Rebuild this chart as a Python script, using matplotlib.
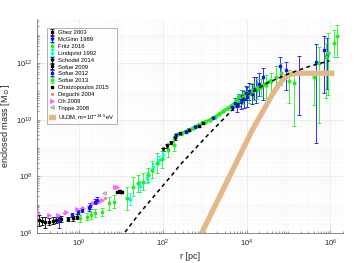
import numpy as np
import matplotlib.pyplot as plt
from matplotlib.patches import Patch
from matplotlib.ticker import LogLocator, NullFormatter

plt.rcParams['font.family'] = ['Liberation Sans', 'DejaVu Sans']
plt.rcParams['mathtext.fontset'] = 'dejavusans'

# all values as log10(r [pc]) and log10(M [Msun])
ghez_logr = [-0.96, -0.88, -0.80, -0.72, -0.62, -0.55, -0.48, -0.42]
ghez_logm = [6.45, 6.42, 6.38, 6.40, 6.44, 6.46, 6.48, 6.50]
ghez_err = [0.20, 0.15, 0.20, 0.12, 0.12, 0.10, 0.10, 0.10]

mcginn_logr = [2.32, 2.55, 2.78, 3.20]
mcginn_logm = [9.45, 9.58, 9.73, 10.05]
mcginn_err = [0.04, 0.04, 0.04, 0.04]

fritz_logr = [0.03, 0.19, 0.30, 0.39, 0.55, 0.71, 0.83]
fritz_logm = [6.52, 6.58, 6.62, 6.70, 6.75, 7.05, 7.11]
fritz_err = [0.12, 0.12, 0.12, 0.15, 0.15, 0.22, 0.22]

lindqvist_logr = [1.22, 1.45, 1.62, 1.78, 1.90, 2.00]
lindqvist_logm = [7.20, 7.65, 7.95, 8.32, 8.58, 8.75]
lindqvist_err = [0.20, 0.20, 0.20, 0.15, 0.15, 0.15]

schodel_logr = [2.00, 2.10, 2.20, 2.30]
schodel_logm = [8.95, 9.07, 9.19, 9.35]
schodel_err = [0.06, 0.06, 0.06, 0.06]

sofue09_logr = [-0.25, -0.15, -0.05, 2.42, 2.62, 2.86, 2.95]
sofue09_logm = [6.49, 6.52, 6.58, 9.52, 9.64, 9.78, 9.90]
sofue09_err = [0.08, 0.08, 0.08, 0.05, 0.05, 0.05, 0.05]

sofue12_logr = [-0.48, -0.17, -0.01, 0.07, 0.23, 0.27, 0.39, 0.43,
                3.65, 3.72, 3.78, 3.82, 3.86, 3.90, 3.94, 3.98, 4.02, 4.06, 4.12, 4.18, 4.22, 4.30,
                4.39, 4.79, 4.95, 5.26, 5.66, 5.86, 5.93]
sofue12_logm = [6.46, 6.64, 6.75, 6.81, 6.87, 6.95, 7.11, 7.17,
                10.45, 10.60, 10.48, 10.70, 10.62, 10.85, 10.72, 10.95, 10.80, 11.00, 10.90, 11.10, 11.05, 11.25,
                11.52, 11.88, 11.76, 11.64, 12.05, 12.47, 12.30]
sofue12_lo = [0.28, 0.08, 0.08, 0.08, 0.10, 0.10, 0.10, 0.10,
              0.12, 0.15, 0.20, 0.20, 0.25, 0.20, 0.30, 0.25, 0.35, 0.30, 0.35, 0.40, 0.45, 0.40,
              0.82, 0.53, 0.71, 1.47, 2.88, 1.53, 1.20]
sofue12_hi = [0.10, 0.08, 0.08, 0.08, 0.10, 0.10, 0.10, 0.10,
              0.12, 0.15, 0.20, 0.20, 0.25, 0.20, 0.30, 0.25, 0.35, 0.30, 0.35, 0.40, 0.45, 0.40,
              0.30, 0.35, 0.26, 0.61, 0.63, 0.47, 0.60]

sofue13_logr = [1.14, 1.30, 1.42, 1.54, 1.66, 1.74, 1.86, 1.98, 2.13, 2.27,
                3.80, 3.92, 4.05, 4.15, 4.25, 4.35,
                4.47, 4.59, 4.71, 4.83, 5.02, 5.14, 5.62, 5.74, 5.90, 5.95, 6.08, 6.17]
sofue13_logm = [7.23, 7.64, 7.76, 7.81, 8.05, 8.23, 8.48, 8.60, 8.93, 9.11,
                10.65, 10.80, 10.90, 11.00, 11.08, 11.15,
                11.23, 11.35, 11.52, 11.64, 11.35, 11.29, 11.52, 12.00, 12.23, 12.35, 12.70, 12.96]
sofue13_lo = [0.40, 0.35, 0.30, 0.30, 0.25, 0.30, 0.35, 0.30, 0.25, 0.20,
              0.20, 0.25, 0.30, 0.30, 0.35, 0.30,
              0.47, 0.47, 0.35, 0.41, 0.77, 1.53, 1.00, 2.12, 1.47, 1.47, 0.47, 0.73]
sofue13_hi = [0.40, 0.35, 0.30, 0.30, 0.25, 0.30, 0.35, 0.30, 0.25, 0.20,
              0.20, 0.25, 0.30, 0.30, 0.35, 0.30,
              0.35, 0.29, 0.36, 0.36, 0.41, 0.41, 0.18, 0.58, 0.47, 0.70, 0.47, 0.39]

# dense rotation-curve part of Sofue 2013
band13_logr = [2.29, 2.45, 2.60, 2.72, 2.85, 3.00, 3.12, 3.25, 3.35, 3.44, 3.55,
               3.67, 3.75, 3.83, 3.92, 3.99, 4.10, 4.20, 4.31, 4.45, 4.55]
band13_logm = [9.40, 9.52, 9.62, 9.70, 9.80, 9.92, 9.99, 10.10, 10.20, 10.29, 10.40,
               10.52, 10.65, 10.82, 10.88, 10.94, 11.02, 11.10, 11.17, 11.25, 11.35]

chatz_logr = [0.92, 0.95, 0.97, 0.99, 1.01, 1.03]
chatz_logm = [7.45, 7.47, 7.44, 7.48, 7.46, 7.45]

deguchi_logr = [-0.35, 0.62]
deguchi_logm = [6.72, 7.22]

oh_logr = [-0.98, -0.72, -0.50, -0.30, -0.05, 0.10, 0.34, 0.48, 0.55, 0.86, 0.92]
oh_logm = [6.70, 6.64, 6.65, 6.75, 6.84, 6.88, 7.05, 7.12, 7.17, 7.61, 7.64]

trippe_logr = [0.59]
trippe_logm = [7.40]

fit_logr = [1.10, 1.45, 1.85, 2.25, 2.40, 3.04, 3.50, 4.00, 4.50, 5.00, 5.50, 5.98]
fit_logm = [6.03, 6.70, 7.40, 8.10, 8.38, 9.40, 10.10, 10.85, 11.30, 11.62, 11.88, 12.08]

uldm_logr = [2.76, 2.93, 4.14, 4.59, 4.75, 4.90, 5.00, 5.14, 6.10]
uldm_logm = [5.50, 6.00, 9.64, 10.82, 11.20, 11.47, 11.57, 11.64, 11.64]

fig = plt.figure(figsize=(3.57, 2.63), dpi=100)
ax = fig.add_axes([0.1036, 0.114, 0.857, 0.814])


def eb(lr, lm, lo, hi, color, fmt, ms, label):
    lr = np.array(lr)
    lm = np.array(lm)
    m = 10 ** lm
    yerr = [m - 10 ** (lm - np.array(lo)), 10 ** (lm + np.array(hi)) - m]
    return ax.errorbar(10 ** lr, m, yerr=yerr, fmt=fmt, color=color, ms=ms,
                       elinewidth=0.6, capsize=1.2, capthick=0.6, label=label, zorder=3)


handles = []
handles.append(eb(ghez_logr, ghez_logm, ghez_err, ghez_err, 'k', 's', 1.5, 'Ghez 2003'))
handles.append(eb(mcginn_logr, mcginn_logm, mcginn_err, mcginn_err, 'b', 'v', 2, 'McGinn 1989'))
handles.append(eb(fritz_logr, fritz_logm, fritz_err, fritz_err, '#22ee22', 's', 1.5, 'Fritz 2016'))
handles.append(eb(lindqvist_logr, lindqvist_logm, lindqvist_err, lindqvist_err, '#00ffff', 's', 1.5,
                  'Lindqvist 1992'))
handles.append(eb(schodel_logr, schodel_logm, schodel_err, schodel_err, 'k', 'v', 2, 'Schodel 2014'))
handles.append(eb(sofue09_logr, sofue09_logm, sofue09_err, sofue09_err, 'k', 's', 1.5, 'Sofue 2009'))
handles.append(eb(sofue12_logr, sofue12_logm, sofue12_lo, sofue12_hi, '#1010ff', 's', 1.5, 'Sofue 2012'))
handles.append(eb(sofue13_logr, sofue13_logm, sofue13_lo, sofue13_hi, '#22ee22', 'o', 2, 'Sofue 2013'))
ax.plot(10 ** np.array(band13_logr), 10 ** np.array(band13_logm), '-o', color='#22ee22',
        lw=2.2, ms=2.2, zorder=3)
handles += ax.plot(10 ** np.array(chatz_logr), 10 ** np.array(chatz_logm), 's', color='k', ms=1.6,
                   label='Chatzopoulos 2015', zorder=3)
handles += ax.plot(10 ** np.array(deguchi_logr), 10 ** np.array(deguchi_logm), '.', color='#ff7777',
                   ms=2.5, label='Deguchi 2004', zorder=3)
handles += ax.plot(10 ** np.array(oh_logr), 10 ** np.array(oh_logm), '>', color='#ff66ff', ms=2.5,
                   label='Oh 2009', zorder=3)
handles += ax.plot(10 ** np.array(trippe_logr), 10 ** np.array(trippe_logm), '<', color='#888888',
                   ms=2.5, mfc='none', mew=0.6, label='Trippe 2008', zorder=3)

tan = '#e2b887'
ax.plot(10 ** np.array(uldm_logr), 10 ** np.array(uldm_logm), color=tan, lw=3.8,
        solid_capstyle='butt', zorder=4)
ax.plot(10 ** np.array(fit_logr), 10 ** np.array(fit_logm), color='k', lw=1.1,
        dashes=(2.6, 2.2), zorder=5)

ax.set_xscale('log')
ax.set_yscale('log')
ax.set_xlim(0.1, 2e6)
ax.set_ylim(1e6, 3.6e13)
ax.set_xticks([1, 1e2, 1e4, 1e6])
ax.set_yticks([1e6, 1e8, 1e10, 1e12])
ax.xaxis.set_minor_locator(LogLocator(base=10, subs=np.arange(1, 10), numticks=30))
ax.yaxis.set_minor_locator(LogLocator(base=10, subs=np.arange(1, 10), numticks=30))
ax.xaxis.set_minor_formatter(NullFormatter())
ax.yaxis.set_minor_formatter(NullFormatter())
ax.grid(True, which='major', color='#e0e0e0', lw=0.4)
ax.grid(True, which='minor', color='#ececec', lw=0.35, ls=(0, (1, 1)))
ax.set_axisbelow(True)
for s in ['top', 'right']:
    ax.spines[s].set_visible(False)
for s in ['left', 'bottom']:
    ax.spines[s].set_color('#777777')
    ax.spines[s].set_linewidth(0.6)
ax.tick_params(which='both', direction='in', colors='#777777', labelcolor='#262626',
               labelsize=5.5, width=0.5)
ax.tick_params(which='major', length=2.5)
ax.tick_params(which='minor', length=1.3)
ax.set_xlabel('r [pc]', fontsize=6.5, color='#262626', labelpad=2)
ax.set_ylabel(r'enclosed mass [M$_\odot$]', fontsize=6.5, color='#262626', labelpad=3)

handles.append(Patch(facecolor=tan, edgecolor=tan))
labels = [h.get_label() for h in handles[:-1]] + [r'ULDM, m=10$^{-24.5}$eV']
leg = ax.legend(handles, labels, loc='upper left', bbox_to_anchor=(0.033, 0.958),
                fontsize=4.2, labelspacing=0.3, handlelength=1.0, handletextpad=0.5,
                borderpad=0.4, borderaxespad=0, frameon=True, fancybox=False)
leg.get_frame().set_edgecolor('#777777')
leg.get_frame().set_linewidth(0.5)

fig.savefig('out.png', dpi=100)
